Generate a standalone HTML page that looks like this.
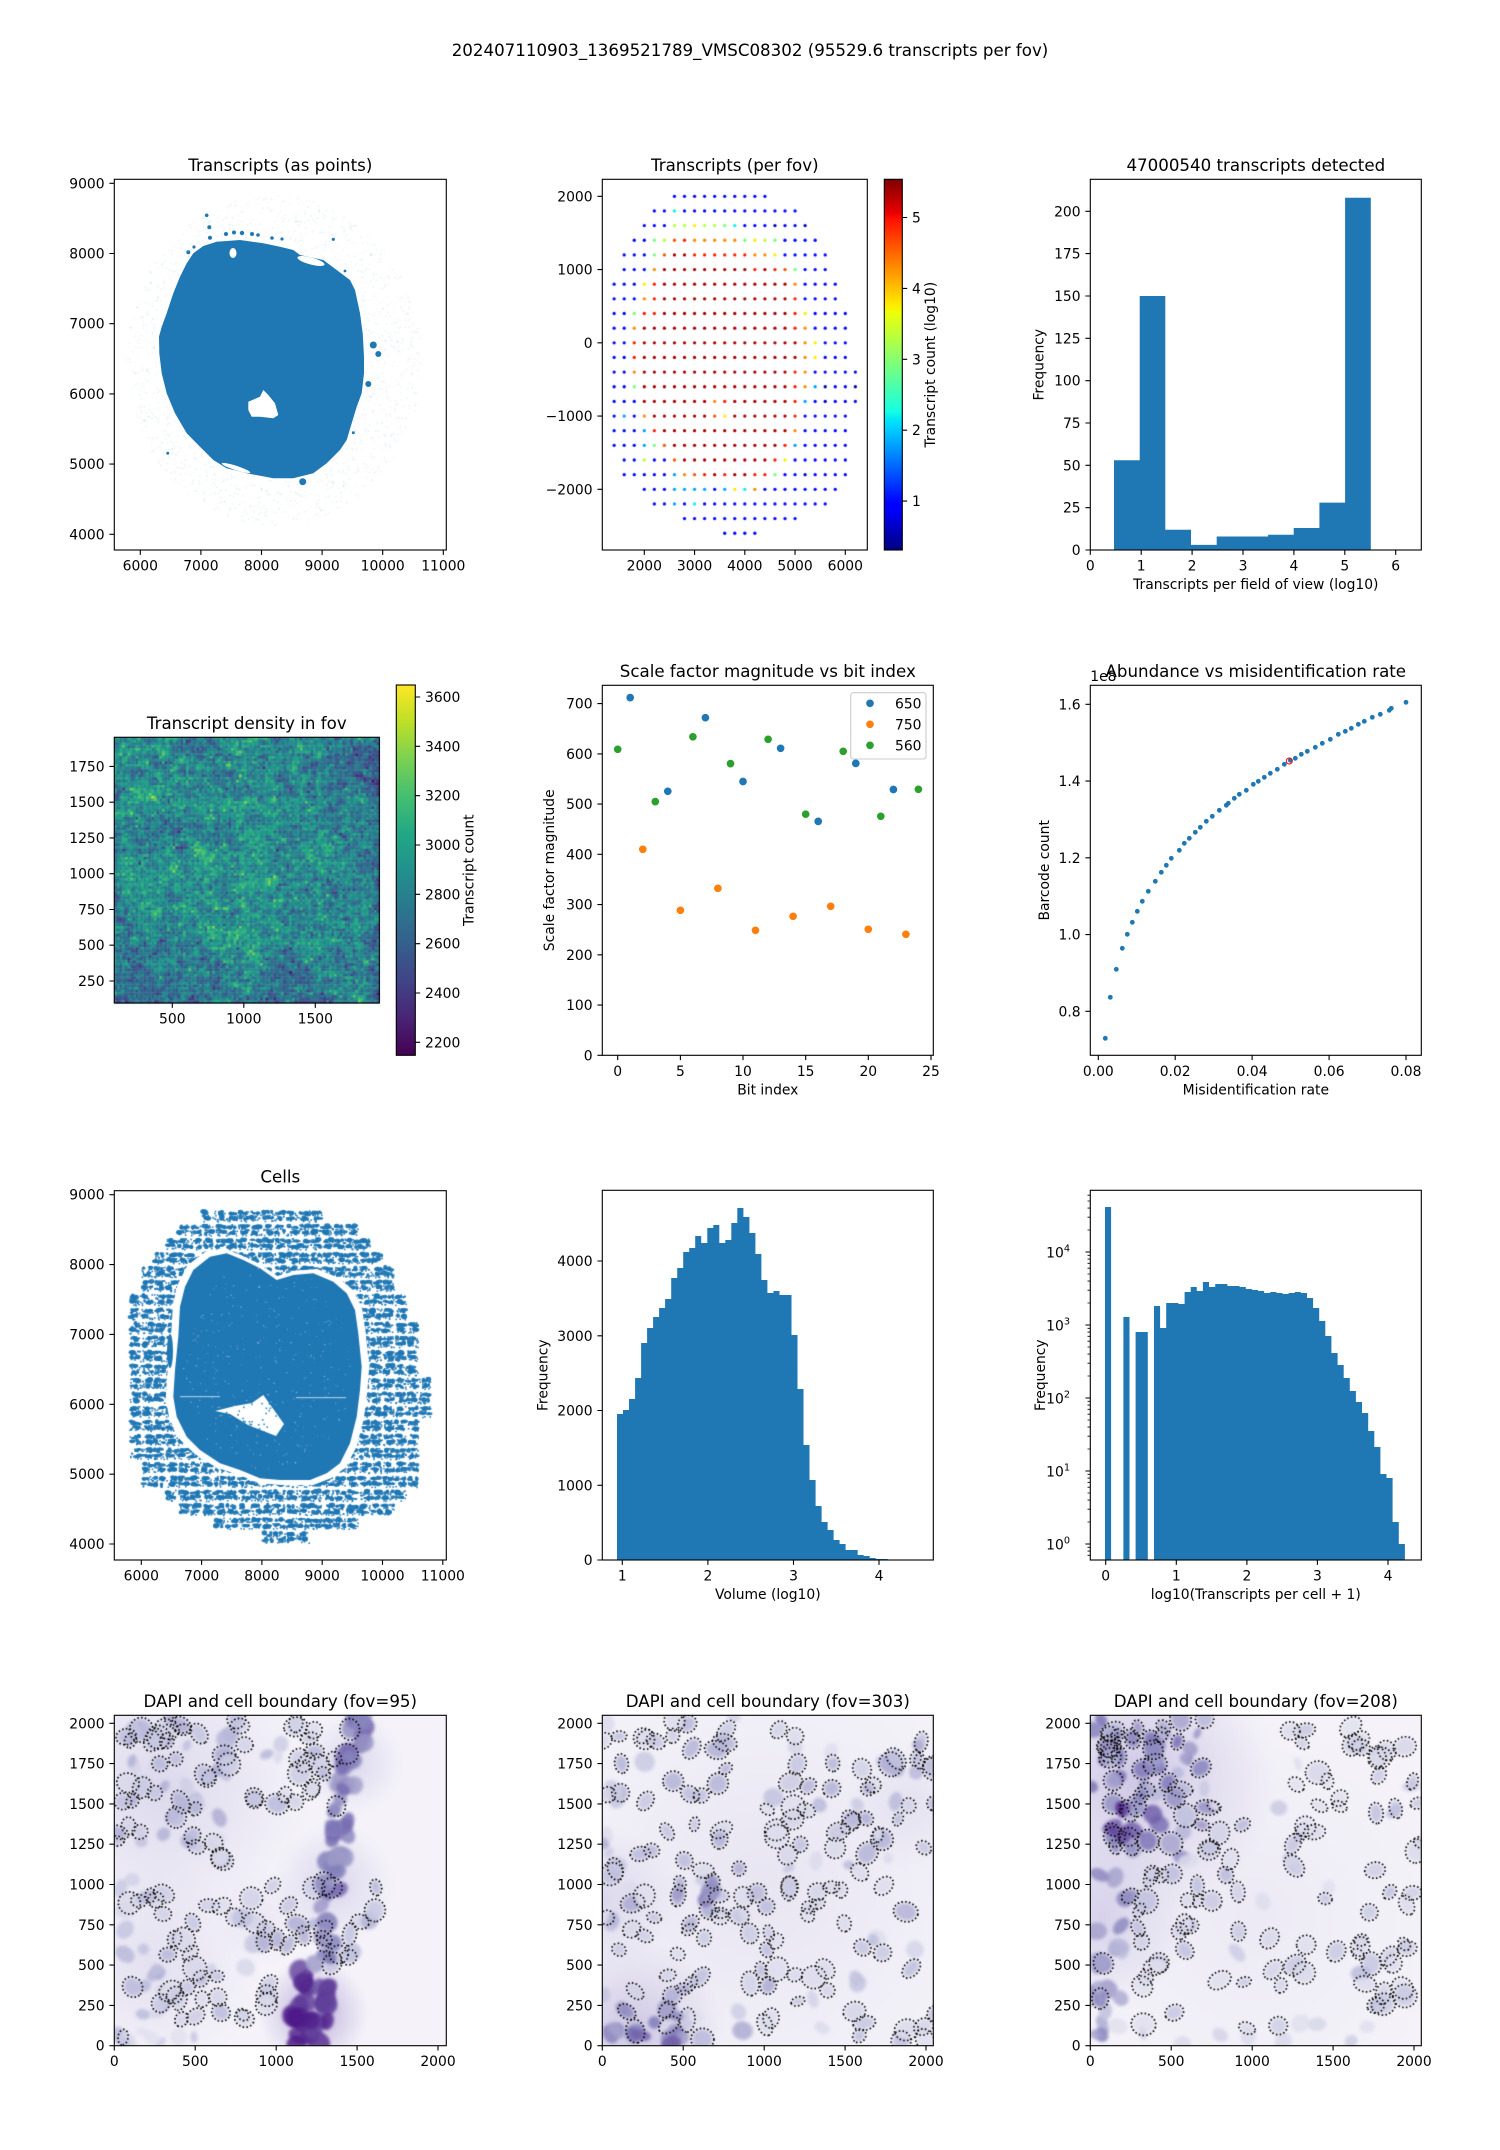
<!DOCTYPE html>
<html><head><meta charset="utf-8">
<style>
html,body{margin:0;padding:0;background:#fff;}
#wrap{position:relative;width:1500px;height:2150px;overflow:hidden;background:#fff;}
#cv{position:absolute;left:0;top:0;}
#sv{position:absolute;left:0;top:0;}
text{font-family:"DejaVu Sans","Liberation Sans",sans-serif;font-size:13.89px;fill:#000;}
.ti{font-size:16.67px;text-anchor:middle;}
.xc{text-anchor:middle;}
.ye{text-anchor:end;}
.tk{stroke:#000;stroke-width:1.11;fill:none;}
.mt{stroke:#000;stroke-width:0.83;fill:none;}
.fr{fill:none;stroke:#000;stroke-width:1.11;}
</style></head><body><div id="wrap">
<canvas id="cv" width="1500" height="2150"></canvas>
<svg id="sv" width="1500" height="2150" xmlns="http://www.w3.org/2000/svg">
<defs>
<linearGradient id="jet" x1="0" y1="1" x2="0" y2="0">
<stop offset="0" stop-color="#000080"/><stop offset="0.11" stop-color="#0000ff"/><stop offset="0.125" stop-color="#0000ff"/><stop offset="0.34" stop-color="#00dbff"/><stop offset="0.35" stop-color="#00e5f7"/><stop offset="0.375" stop-color="#15ffe2"/><stop offset="0.64" stop-color="#eeff08"/><stop offset="0.65" stop-color="#f7f500"/><stop offset="0.66" stop-color="#ffec00"/><stop offset="0.89" stop-color="#ff1300"/><stop offset="0.91" stop-color="#e80000"/><stop offset="1" stop-color="#800000"/>
</linearGradient>
<linearGradient id="vir" x1="0" y1="1" x2="0" y2="0">
<stop offset="0" stop-color="#440154"/><stop offset="0.1" stop-color="#482475"/><stop offset="0.2" stop-color="#414487"/><stop offset="0.3" stop-color="#355f8d"/><stop offset="0.4" stop-color="#2a788e"/><stop offset="0.5" stop-color="#21918c"/><stop offset="0.6" stop-color="#22a884"/><stop offset="0.7" stop-color="#44bf70"/><stop offset="0.8" stop-color="#7ad151"/><stop offset="0.9" stop-color="#bddf26"/><stop offset="1" stop-color="#fde725"/>
</linearGradient>
</defs>

<text class="ti" x="750" y="56">202407110903_1369521789_VMSC08302 (95529.6 transcripts per fov)</text>

<!-- Panel A -->
<text class="ti" x="280.3" y="171">Transcripts (as points)</text>
<path fill="#1f77b4" d="M193.3,253.3 L203.3,246 L216.7,241.7 L240,240 L263.3,243.3 L280,246.7 L293.3,250 L300,255 L323.3,260 L336.7,270 L350,280 L355,290 L360,313.3 L362.7,333.3 L364,356.7 L364,373.3 L361.7,393.3 L356.7,406.7 L351.7,423.3 L346.7,440 L340,450 L326.7,463.3 L313.3,473.3 L293.3,478.3 L273.3,478.3 L246.7,473.3 L226.7,468.3 L213.3,460 L200,446.7 L186.7,433.3 L175,413.3 L166.7,393.3 L161.7,373.3 L159.3,353.3 L159,336.7 L161.7,326.7 L166.7,313.3 L173.3,293.3 L180,276.7 L186.7,263.3 Z"/>
<g fill="#1f77b4">
<circle cx="206.7" cy="215.3" r="1.8"/><circle cx="209.3" cy="227.3" r="2"/><circle cx="210" cy="237.7" r="2"/><circle cx="188.3" cy="252.3" r="2"/><circle cx="167.7" cy="453.3" r="1.5"/><circle cx="302.7" cy="481.7" r="3.5"/><circle cx="368.3" cy="384" r="3"/><circle cx="373.3" cy="345" r="3.5"/><circle cx="378.3" cy="354" r="3"/><circle cx="353.3" cy="432.7" r="1.5"/><circle cx="333.3" cy="239.3" r="1.6"/><circle cx="320" cy="267.7" r="1.5"/><circle cx="194" cy="247" r="1.6"/><circle cx="226" cy="234" r="2"/><circle cx="234" cy="232.5" r="2"/><circle cx="242" cy="233" r="2.2"/><circle cx="252" cy="234" r="2"/><circle cx="258" cy="235" r="1.8"/><circle cx="272" cy="238" r="1.8"/><circle cx="282" cy="239" r="1.6"/><circle cx="345" cy="271" r="1.4"/><circle cx="171" cy="312" r="1.6"/>
</g>
<ellipse cx="311" cy="261" rx="14" ry="3.5" transform="rotate(15 311 261)" fill="#fff"/>
<path fill="#fff" d="M248.3,401.7 L260,396.7 L263.3,390 L268.3,395 L275,403.3 L278.3,415 L273.3,418.3 L260,416.7 L251.7,416.7 L248.3,410 Z"/>
<ellipse cx="233" cy="253" rx="3.5" ry="5" fill="#fff"/>
<ellipse cx="236" cy="468" rx="15" ry="2.2" transform="rotate(18 236 468)" fill="#fff"/>
<rect class="fr" x="114.3" y="179.3" width="332" height="370.7"/>
<path class="tk" d="M140.3,550v4.86M200.9,550v4.86M261.5,550v4.86M322.1,550v4.86M382.7,550v4.86M443.3,550v4.86M114.3,183.3h-4.86M114.3,253.5h-4.86M114.3,323.7h-4.86M114.3,393.9h-4.86M114.3,464.1h-4.86M114.3,534.3h-4.86"/>
<text class="xc" x="140.3" y="570.5">6000</text><text class="xc" x="200.9" y="570.5">7000</text><text class="xc" x="261.5" y="570.5">8000</text><text class="xc" x="322.1" y="570.5">9000</text><text class="xc" x="382.7" y="570.5">10000</text><text class="xc" x="443.3" y="570.5">11000</text>
<text class="ye" x="104.6" y="188.3">9000</text><text class="ye" x="104.6" y="258.5">8000</text><text class="ye" x="104.6" y="328.7">7000</text><text class="ye" x="104.6" y="398.9">6000</text><text class="ye" x="104.6" y="469.1">5000</text><text class="ye" x="104.6" y="539.3">4000</text>

<!-- Panel B -->
<text class="ti" x="734.8" y="171">Transcripts (per fov)</text>
<rect class="fr" x="602.3" y="179.3" width="265" height="370.7"/>
<path class="tk" d="M644.3,550v4.86M694.55,550v4.86M744.8,550v4.86M795.05,550v4.86M845.3,550v4.86M602.3,196.3h-4.86M602.3,269.6h-4.86M602.3,342.8h-4.86M602.3,416.1h-4.86M602.3,489.3h-4.86"/>
<text class="xc" x="644.3" y="570.5">2000</text><text class="xc" x="694.55" y="570.5">3000</text><text class="xc" x="744.8" y="570.5">4000</text><text class="xc" x="795.05" y="570.5">5000</text><text class="xc" x="845.3" y="570.5">6000</text>
<text class="ye" x="592.6" y="201.3">2000</text><text class="ye" x="592.6" y="274.6">1000</text><text class="ye" x="592.6" y="347.8">0</text><text class="ye" x="592.6" y="421.1">−1000</text><text class="ye" x="592.6" y="494.3">−2000</text>
<rect x="884.3" y="179.3" width="18" height="370.7" fill="url(#jet)" stroke="#000" stroke-width="1.11"/>
<path class="tk" d="M902.3,501.1h4.86M902.3,430.2h4.86M902.3,359.3h4.86M902.3,288.4h4.86M902.3,217.5h4.86"/>
<text x="912" y="506.1">1</text><text x="912" y="435.2">2</text><text x="912" y="364.3">3</text><text x="912" y="293.4">4</text><text x="912" y="222.5">5</text>
<text class="xc" transform="translate(935,364.7) rotate(-90)">Transcript count (log10)</text>

<!-- Panel C -->
<text class="ti" x="1255.8" y="171">47000540 transcripts detected</text>
<path fill="#1f77b4" d="M1114,550 V460.2 H1139.7 V296 H1165.3 V529.7 H1191 V544.9 H1216.7 V536.5 H1268.1 V534.8 H1293.7 V528 H1319.4 V502.6 H1345.1 V197.8 H1370.8 V550 Z"/>
<rect class="fr" x="1090.3" y="179.3" width="331" height="370.7"/>
<path class="tk" d="M1090.3,550v4.86M1141.2,550v4.86M1192.1,550v4.86M1243,550v4.86M1293.9,550v4.86M1344.8,550v4.86M1395.7,550v4.86M1090.3,550h-4.86M1090.3,507.7h-4.86M1090.3,465.3h-4.86M1090.3,423h-4.86M1090.3,380.7h-4.86M1090.3,338.3h-4.86M1090.3,296h-4.86M1090.3,253.6h-4.86M1090.3,211.3h-4.86"/>
<text class="xc" x="1090.3" y="570.5">0</text><text class="xc" x="1141.2" y="570.5">1</text><text class="xc" x="1192.1" y="570.5">2</text><text class="xc" x="1243" y="570.5">3</text><text class="xc" x="1293.9" y="570.5">4</text><text class="xc" x="1344.8" y="570.5">5</text><text class="xc" x="1395.7" y="570.5">6</text>
<text class="ye" x="1080.6" y="555">0</text><text class="ye" x="1080.6" y="512.7">25</text><text class="ye" x="1080.6" y="470.3">50</text><text class="ye" x="1080.6" y="428">75</text><text class="ye" x="1080.6" y="385.7">100</text><text class="ye" x="1080.6" y="343.3">125</text><text class="ye" x="1080.6" y="301">150</text><text class="ye" x="1080.6" y="258.6">175</text><text class="ye" x="1080.6" y="216.3">200</text>
<text class="xc" x="1255.8" y="589">Transcripts per field of view (log10)</text>
<text class="xc" transform="translate(1043.4,364.7) rotate(-90)">Frequency</text>

<!-- Panel D -->
<text class="ti" x="246.8" y="729">Transcript density in fov</text>
<rect class="fr" x="114.3" y="737.3" width="265" height="265.7"/>
<path class="tk" d="M172.3,1003v4.86M243.8,1003v4.86M315.3,1003v4.86M114.3,981h-4.86M114.3,945.2h-4.86M114.3,909.5h-4.86M114.3,873.7h-4.86M114.3,837.9h-4.86M114.3,802.2h-4.86M114.3,766.4h-4.86"/>
<text class="xc" x="172.3" y="1023.5">500</text><text class="xc" x="243.8" y="1023.5">1000</text><text class="xc" x="315.3" y="1023.5">1500</text>
<text class="ye" x="104.6" y="986">250</text><text class="ye" x="104.6" y="950.2">500</text><text class="ye" x="104.6" y="914.5">750</text><text class="ye" x="104.6" y="878.7">1000</text><text class="ye" x="104.6" y="842.9">1250</text><text class="ye" x="104.6" y="807.2">1500</text><text class="ye" x="104.6" y="771.4">1750</text>
<rect x="396.3" y="685" width="19" height="370.3" fill="url(#vir)" stroke="#000" stroke-width="1.11"/>
<path class="tk" d="M415.3,697h4.86M415.3,746.3h4.86M415.3,795.7h4.86M415.3,845h4.86M415.3,894.3h4.86M415.3,943.7h4.86M415.3,993h4.86M415.3,1042.3h4.86"/>
<text x="425" y="702">3600</text><text x="425" y="751.3">3400</text><text x="425" y="800.7">3200</text><text x="425" y="850">3000</text><text x="425" y="899.3">2800</text><text x="425" y="948.7">2600</text><text x="425" y="998">2400</text><text x="425" y="1047.3">2200</text>
<text class="xc" transform="translate(473.4,870.2) rotate(-90)">Transcript count</text>

<!-- Panel E -->
<text class="ti" x="767.8" y="677">Scale factor magnitude vs bit index</text>
<g stroke="#fff" stroke-width="0.9">
<g fill="#1f77b4"><circle cx="630.2" cy="697.6" r="4.3"/><circle cx="667.8" cy="791.3" r="4.3"/><circle cx="705.4" cy="717.7" r="4.3"/><circle cx="743" cy="781.5" r="4.3"/><circle cx="780.6" cy="748.3" r="4.3"/><circle cx="818.2" cy="821.4" r="4.3"/><circle cx="855.8" cy="763.4" r="4.3"/><circle cx="893.4" cy="789.5" r="4.3"/></g>
<g fill="#ff7f0e"><circle cx="642.8" cy="849.3" r="4.3"/><circle cx="680.4" cy="910.3" r="4.3"/><circle cx="717.9" cy="888.3" r="4.3"/><circle cx="755.5" cy="930.3" r="4.3"/><circle cx="793.1" cy="916.3" r="4.3"/><circle cx="830.7" cy="906.3" r="4.3"/><circle cx="868.3" cy="929.3" r="4.3"/><circle cx="905.9" cy="934.3" r="4.3"/></g>
<g fill="#2ca02c"><circle cx="617.7" cy="749.3" r="4.3"/><circle cx="655.3" cy="801.6" r="4.3"/><circle cx="692.9" cy="736.8" r="4.3"/><circle cx="730.5" cy="763.6" r="4.3"/><circle cx="768.1" cy="739.3" r="4.3"/><circle cx="805.7" cy="814.2" r="4.3"/><circle cx="843.2" cy="751.3" r="4.3"/><circle cx="880.8" cy="816.3" r="4.3"/><circle cx="918.4" cy="789.3" r="4.3"/></g>
</g>
<rect x="850.7" y="692.7" width="75.3" height="66.3" rx="2.8" fill="#fff" fill-opacity="0.8" stroke="#cccccc" stroke-width="1.11"/>
<g stroke="#fff" stroke-width="0.9"><circle cx="870" cy="703.3" r="4.3" fill="#1f77b4"/><circle cx="870" cy="724.3" r="4.3" fill="#ff7f0e"/><circle cx="870" cy="745.3" r="4.3" fill="#2ca02c"/></g>
<text x="895" y="708.3">650</text><text x="895" y="729.3">750</text><text x="895" y="750.3">560</text>
<rect class="fr" x="602.3" y="685.3" width="331" height="370"/>
<path class="tk" d="M617.7,1055.3v4.86M680.4,1055.3v4.86M743,1055.3v4.86M805.7,1055.3v4.86M868.3,1055.3v4.86M931,1055.3v4.86M602.3,1055.3h-4.86M602.3,1005.1h-4.86M602.3,954.8h-4.86M602.3,904.6h-4.86M602.3,854.3h-4.86M602.3,804.1h-4.86M602.3,753.9h-4.86M602.3,703.6h-4.86"/>
<text class="xc" x="617.7" y="1075.8">0</text><text class="xc" x="680.4" y="1075.8">5</text><text class="xc" x="743" y="1075.8">10</text><text class="xc" x="805.7" y="1075.8">15</text><text class="xc" x="868.3" y="1075.8">20</text><text class="xc" x="931" y="1075.8">25</text>
<text class="ye" x="592.6" y="1060.3">0</text><text class="ye" x="592.6" y="1010.1">100</text><text class="ye" x="592.6" y="959.8">200</text><text class="ye" x="592.6" y="909.6">300</text><text class="ye" x="592.6" y="859.3">400</text><text class="ye" x="592.6" y="809.1">500</text><text class="ye" x="592.6" y="758.9">600</text><text class="ye" x="592.6" y="708.6">700</text>
<text class="xc" x="767.8" y="1094.3">Bit index</text>
<text class="xc" transform="translate(554,870.3) rotate(-90)">Scale factor magnitude</text>

<!-- Panel F -->
<g fill="#1f77b4">
<circle cx="1105.3" cy="1038.3" r="2.4"/><circle cx="1110.3" cy="997.3" r="2.4"/><circle cx="1116.3" cy="969.3" r="2.4"/><circle cx="1122.3" cy="948.3" r="2.4"/><circle cx="1127.3" cy="934.3" r="2.4"/><circle cx="1132.3" cy="922.3" r="2.4"/><circle cx="1137.3" cy="911.3" r="2.4"/><circle cx="1142.3" cy="901.3" r="2.4"/><circle cx="1148.3" cy="891.3" r="2.4"/><circle cx="1155.3" cy="881.3" r="2.4"/><circle cx="1161.3" cy="872.3" r="2.4"/><circle cx="1166.3" cy="865.3" r="2.4"/><circle cx="1171.3" cy="858.3" r="2.4"/><circle cx="1179.3" cy="850.3" r="2.4"/><circle cx="1184.3" cy="843.3" r="2.4"/><circle cx="1189.3" cy="838.3" r="2.4"/><circle cx="1195.3" cy="832.3" r="2.4"/><circle cx="1200.3" cy="827.3" r="2.4"/><circle cx="1206.3" cy="821.3" r="2.4"/><circle cx="1212.3" cy="816.3" r="2.4"/><circle cx="1219.3" cy="810.3" r="2.4"/><circle cx="1226.3" cy="805.3" r="2.4"/><circle cx="1228.3" cy="803.3" r="2.4"/><circle cx="1234.3" cy="798.3" r="2.4"/><circle cx="1239.3" cy="794.3" r="2.4"/><circle cx="1246.3" cy="790.3" r="2.4"/><circle cx="1253.3" cy="784.3" r="2.4"/><circle cx="1258.3" cy="781.3" r="2.4"/><circle cx="1264.3" cy="777.3" r="2.4"/><circle cx="1270.3" cy="773.3" r="2.4"/><circle cx="1277.3" cy="769.3" r="2.4"/><circle cx="1284.3" cy="764.3" r="2.4"/><circle cx="1290.3" cy="760.3" r="2.4"/><circle cx="1295.3" cy="758.3" r="2.4"/><circle cx="1301.3" cy="754.3" r="2.4"/><circle cx="1307.3" cy="751.3" r="2.4"/><circle cx="1315.3" cy="747.3" r="2.4"/><circle cx="1322.3" cy="743.3" r="2.4"/><circle cx="1330.3" cy="739.3" r="2.4"/><circle cx="1338.3" cy="734.3" r="2.4"/><circle cx="1345.3" cy="731.3" r="2.4"/><circle cx="1351.3" cy="728.3" r="2.4"/><circle cx="1358.3" cy="724.3" r="2.4"/><circle cx="1364.3" cy="721.3" r="2.4"/><circle cx="1372.3" cy="717.3" r="2.4"/><circle cx="1380.3" cy="714.3" r="2.4"/><circle cx="1389.3" cy="710.3" r="2.4"/><circle cx="1391.3" cy="708.3" r="2.4"/><circle cx="1406" cy="702.3" r="2.4"/>
</g>
<circle cx="1289.3" cy="761" r="3" fill="none" stroke="#ff0000" stroke-width="1"/>
<rect class="fr" x="1090.3" y="685.3" width="331" height="370"/>
<path class="tk" d="M1098.3,1055.3v4.86M1175.2,1055.3v4.86M1252.1,1055.3v4.86M1329.1,1055.3v4.86M1406,1055.3v4.86M1090.3,1011.3h-4.86M1090.3,934.55h-4.86M1090.3,857.8h-4.86M1090.3,781.05h-4.86M1090.3,704.3h-4.86"/>
<text class="xc" x="1098.3" y="1075.8">0.00</text><text class="xc" x="1175.2" y="1075.8">0.02</text><text class="xc" x="1252.1" y="1075.8">0.04</text><text class="xc" x="1329.1" y="1075.8">0.06</text><text class="xc" x="1406" y="1075.8">0.08</text>
<text class="ye" x="1080.6" y="1016.3">0.8</text><text class="ye" x="1080.6" y="939.55">1.0</text><text class="ye" x="1080.6" y="862.8">1.2</text><text class="ye" x="1080.6" y="786.05">1.4</text><text class="ye" x="1080.6" y="709.3">1.6</text>
<text x="1090.3" y="681">1e8</text>
<text class="ti" x="1255.8" y="677">Abundance vs misidentification rate</text>
<text class="xc" x="1255.8" y="1094.3">Misidentification rate</text>
<text class="xc" transform="translate(1049,870.3) rotate(-90)">Barcode count</text>

<!-- Panel G -->
<text class="ti" x="280.3" y="1182.4">Cells</text>
<rect class="fr" x="114.3" y="1190.7" width="332" height="369.3"/>
<path class="tk" d="M141.3,1560v4.86M201.6,1560v4.86M261.9,1560v4.86M322.2,1560v4.86M382.5,1560v4.86M442.8,1560v4.86M114.3,1194.7h-4.86M114.3,1264.6h-4.86M114.3,1334.4h-4.86M114.3,1404.3h-4.86M114.3,1474.2h-4.86M114.3,1544h-4.86"/>
<text class="xc" x="141.3" y="1580.5">6000</text><text class="xc" x="201.6" y="1580.5">7000</text><text class="xc" x="261.9" y="1580.5">8000</text><text class="xc" x="322.2" y="1580.5">9000</text><text class="xc" x="382.5" y="1580.5">10000</text><text class="xc" x="442.8" y="1580.5">11000</text>
<text class="ye" x="104.6" y="1199.7">9000</text><text class="ye" x="104.6" y="1269.6">8000</text><text class="ye" x="104.6" y="1339.4">7000</text><text class="ye" x="104.6" y="1409.3">6000</text><text class="ye" x="104.6" y="1479.2">5000</text><text class="ye" x="104.6" y="1549">4000</text>

<!-- Panel H -->
<path fill="#1f77b4" d="M617,1560V1414H623V1410H629V1399H635.1V1378H641.1V1343H647.1V1328H653.1V1317H659.1V1308H665.1V1299H671.2V1278H677.2V1268H683.2V1252H689.2V1248H695.2V1236H701.2V1243H707.3V1228H713.3V1225H719.3V1243H725.3V1240H731.3V1223H737.3V1208H743.4V1217H749.4V1233H755.4V1254H761.4V1280H767.4V1293H773.4V1291H779.5V1295H791.5V1335H797.5V1389H803.5V1445H809.5V1480H815.6V1506H821.6V1522H827.6V1530H833.6V1540H839.6V1544H845.6V1550H857.7V1555H863.7V1556H869.7V1558H875.7V1559H887.8V1559.5H893.8V1560Z"/>
<rect class="fr" x="602.3" y="1190.3" width="331" height="369.7"/>
<path class="tk" d="M622.3,1560v4.86M707.9,1560v4.86M793.5,1560v4.86M879,1560v4.86M602.3,1560h-4.86M602.3,1485.3h-4.86M602.3,1410.5h-4.86M602.3,1335.8h-4.86M602.3,1261h-4.86"/>
<text class="xc" x="622.3" y="1580.5">1</text><text class="xc" x="707.9" y="1580.5">2</text><text class="xc" x="793.5" y="1580.5">3</text><text class="xc" x="879" y="1580.5">4</text>
<text class="ye" x="592.6" y="1565">0</text><text class="ye" x="592.6" y="1490.3">1000</text><text class="ye" x="592.6" y="1415.5">2000</text><text class="ye" x="592.6" y="1340.8">3000</text><text class="ye" x="592.6" y="1266">4000</text>
<text class="xc" x="767.8" y="1599">Volume (log10)</text>
<text class="xc" transform="translate(547.7,1375.2) rotate(-90)">Frequency</text>

<!-- Panel I -->
<path fill="#1f77b4" d="M1105,1560V1207H1111.1V1560Z M1123.4,1560V1317H1129.5V1560Z M1135.6,1560V1332H1147.8V1560Z M1154,1560V1306H1160.1V1328H1166.2V1303H1178.4V1304H1184.6V1292H1190.7V1287H1196.8V1291H1202.9V1282H1209V1287H1215.2V1284H1227.4V1286H1239.6V1287H1245.8V1289H1251.9V1290H1258V1291H1264.1V1293H1270.2V1292H1276.4V1293H1282.5V1294H1288.6V1293H1294.7V1292H1300.8V1293H1307V1298H1313.1V1308H1319.2V1321H1325.3V1336H1331.4V1353H1337.6V1365H1343.7V1378H1349.8V1391H1355.9V1402H1362V1413H1368.2V1431H1374.3V1447H1380.4V1474H1386.5V1478H1392.6V1522H1398.8V1544H1404.9V1560Z"/>
<rect class="fr" x="1090.3" y="1190.3" width="331" height="369.7"/>
<path class="tk" d="M1105.7,1560v4.86M1176.3,1560v4.86M1246.9,1560v4.86M1317.4,1560v4.86M1388,1560v4.86M1090.3,1544h-4.86M1090.3,1471h-4.86M1090.3,1398h-4.86M1090.3,1325h-4.86M1090.3,1252h-4.86"/>
<path class="mt" d="M1090.3,1555.3h-2.78M1090.3,1551.1h-2.78M1090.3,1547.3h-2.78M1090.3,1522h-2.78M1090.3,1509.2h-2.78M1090.3,1500.1h-2.78M1090.3,1493h-2.78M1090.3,1487.2h-2.78M1090.3,1482.3h-2.78M1090.3,1478.1h-2.78M1090.3,1474.3h-2.78M1090.3,1449h-2.78M1090.3,1436.2h-2.78M1090.3,1427.1h-2.78M1090.3,1420h-2.78M1090.3,1414.2h-2.78M1090.3,1409.3h-2.78M1090.3,1405.1h-2.78M1090.3,1401.3h-2.78M1090.3,1376h-2.78M1090.3,1363.2h-2.78M1090.3,1354.1h-2.78M1090.3,1347h-2.78M1090.3,1341.2h-2.78M1090.3,1336.3h-2.78M1090.3,1332.1h-2.78M1090.3,1328.3h-2.78M1090.3,1303h-2.78M1090.3,1290.2h-2.78M1090.3,1281.1h-2.78M1090.3,1274h-2.78M1090.3,1268.2h-2.78M1090.3,1263.3h-2.78M1090.3,1259.1h-2.78M1090.3,1255.3h-2.78M1090.3,1230h-2.78M1090.3,1217.2h-2.78M1090.3,1208.1h-2.78M1090.3,1201h-2.78M1090.3,1195.2h-2.78"/>
<text class="xc" x="1105.7" y="1580.5">0</text><text class="xc" x="1176.3" y="1580.5">1</text><text class="xc" x="1246.9" y="1580.5">2</text><text class="xc" x="1317.4" y="1580.5">3</text><text class="xc" x="1388" y="1580.5">4</text>
<text class="ye" x="1070" y="1549.3">10<tspan dy="-5.8" font-size="9.72">0</tspan></text>
<text class="ye" x="1070" y="1476.3">10<tspan dy="-5.8" font-size="9.72">1</tspan></text>
<text class="ye" x="1070" y="1403.3">10<tspan dy="-5.8" font-size="9.72">2</tspan></text>
<text class="ye" x="1070" y="1330.3">10<tspan dy="-5.8" font-size="9.72">3</tspan></text>
<text class="ye" x="1070" y="1257.3">10<tspan dy="-5.8" font-size="9.72">4</tspan></text>
<text class="xc" x="1255.8" y="1599">log10(Transcripts per cell + 1)</text>
<text class="xc" transform="translate(1045,1375.2) rotate(-90)">Frequency</text>

<!-- Row 4 -->
<text class="ti" x="280.3" y="1707">DAPI and cell boundary (fov=95)</text>
<text class="ti" x="767.8" y="1707">DAPI and cell boundary (fov=303)</text>
<text class="ti" x="1255.8" y="1707">DAPI and cell boundary (fov=208)</text>
<rect class="fr" x="114.3" y="1715.3" width="332" height="330.4"/>
<rect class="fr" x="602.3" y="1715.3" width="331" height="330.4"/>
<rect class="fr" x="1090.3" y="1715.3" width="331" height="330.4"/>
<path class="tk" d="M114.3,2045.7v4.86M195.2,2045.7v4.86M276.2,2045.7v4.86M357.1,2045.7v4.86M438,2045.7v4.86M602.3,2045.7v4.86M683.2,2045.7v4.86M764.2,2045.7v4.86M845.1,2045.7v4.86M926,2045.7v4.86M1090.3,2045.7v4.86M1171.2,2045.7v4.86M1252.2,2045.7v4.86M1333.1,2045.7v4.86M1414,2045.7v4.86
M114.3,2045.7h-4.86M114.3,2005.4h-4.86M114.3,1965.1h-4.86M114.3,1924.8h-4.86M114.3,1884.5h-4.86M114.3,1844.2h-4.86M114.3,1803.9h-4.86M114.3,1763.6h-4.86M114.3,1723.3h-4.86
M602.3,2045.7h-4.86M602.3,2005.4h-4.86M602.3,1965.1h-4.86M602.3,1924.8h-4.86M602.3,1884.5h-4.86M602.3,1844.2h-4.86M602.3,1803.9h-4.86M602.3,1763.6h-4.86M602.3,1723.3h-4.86
M1090.3,2045.7h-4.86M1090.3,2005.4h-4.86M1090.3,1965.1h-4.86M1090.3,1924.8h-4.86M1090.3,1884.5h-4.86M1090.3,1844.2h-4.86M1090.3,1803.9h-4.86M1090.3,1763.6h-4.86M1090.3,1723.3h-4.86"/>
<text class="xc" x="114.3" y="2066.2">0</text><text class="xc" x="195.2" y="2066.2">500</text><text class="xc" x="276.2" y="2066.2">1000</text><text class="xc" x="357.1" y="2066.2">1500</text><text class="xc" x="438" y="2066.2">2000</text>
<text class="xc" x="602.3" y="2066.2">0</text><text class="xc" x="683.2" y="2066.2">500</text><text class="xc" x="764.2" y="2066.2">1000</text><text class="xc" x="845.1" y="2066.2">1500</text><text class="xc" x="926" y="2066.2">2000</text>
<text class="xc" x="1090.3" y="2066.2">0</text><text class="xc" x="1171.2" y="2066.2">500</text><text class="xc" x="1252.2" y="2066.2">1000</text><text class="xc" x="1333.1" y="2066.2">1500</text><text class="xc" x="1414" y="2066.2">2000</text>
<text class="ye" x="104.6" y="2050.7">0</text><text class="ye" x="104.6" y="2010.4">250</text><text class="ye" x="104.6" y="1970.1">500</text><text class="ye" x="104.6" y="1929.8">750</text><text class="ye" x="104.6" y="1889.5">1000</text><text class="ye" x="104.6" y="1849.2">1250</text><text class="ye" x="104.6" y="1808.9">1500</text><text class="ye" x="104.6" y="1768.6">1750</text><text class="ye" x="104.6" y="1728.3">2000</text>
<text class="ye" x="592.6" y="2050.7">0</text><text class="ye" x="592.6" y="2010.4">250</text><text class="ye" x="592.6" y="1970.1">500</text><text class="ye" x="592.6" y="1929.8">750</text><text class="ye" x="592.6" y="1889.5">1000</text><text class="ye" x="592.6" y="1849.2">1250</text><text class="ye" x="592.6" y="1808.9">1500</text><text class="ye" x="592.6" y="1768.6">1750</text><text class="ye" x="592.6" y="1728.3">2000</text>
<text class="ye" x="1080.6" y="2050.7">0</text><text class="ye" x="1080.6" y="2010.4">250</text><text class="ye" x="1080.6" y="1970.1">500</text><text class="ye" x="1080.6" y="1929.8">750</text><text class="ye" x="1080.6" y="1889.5">1000</text><text class="ye" x="1080.6" y="1849.2">1250</text><text class="ye" x="1080.6" y="1808.9">1500</text><text class="ye" x="1080.6" y="1768.6">1750</text><text class="ye" x="1080.6" y="1728.3">2000</text>
</svg>
</div>
<script>
(function(){
const cv=document.getElementById('cv'),ctx=cv.getContext('2d');
let S=987654321;
function rnd(){S^=S<<13;S>>>=0;S^=S>>>17;S^=S<<5;S>>>=0;return S/4294967296;}
function gauss(){let u=rnd()||1e-9,v=rnd();return Math.sqrt(-2*Math.log(u))*Math.cos(6.283185*v);}
function interp(st,t){if(t<=st[0][0])return st[0][1];for(let i=1;i<st.length;i++){if(t<=st[i][0]){const a=st[i-1],b=st[i],f=(t-a[0])/(b[0]-a[0]);return a[1].map((v,k)=>v+(b[1][k]-v)*f);}}return st[st.length-1][1];}
function rgb(c,a){c=c.map(Math.round);return a===undefined?`rgb(${c[0]},${c[1]},${c[2]})`:`rgba(${c[0]},${c[1]},${c[2]},${a})`;}
const JET=[[0,[0,0,128]],[0.11,[0,0,255]],[0.125,[0,0,255]],[0.34,[0,219,255]],[0.35,[0,229,247]],[0.375,[21,255,226]],[0.64,[238,255,8]],[0.65,[247,245,0]],[0.66,[255,236,0]],[0.89,[255,19,0]],[0.91,[232,0,0]],[1,[128,0,0]]];
const VIR=[[0,[68,1,84]],[0.1,[72,36,117]],[0.2,[65,68,135]],[0.3,[53,95,141]],[0.4,[42,120,142]],[0.5,[33,145,140]],[0.6,[34,168,132]],[0.7,[68,191,112]],[0.8,[122,209,81]],[0.9,[189,223,38]],[1,[253,231,37]]];
const PU=[[0,[252,251,253]],[0.125,[239,237,245]],[0.25,[218,218,235]],[0.375,[188,189,220]],[0.5,[158,154,200]],[0.625,[128,125,186]],[0.75,[106,81,163]],[0.875,[84,39,143]],[1,[63,0,125]]];
const D=n=>"d".repeat(n);
const R=[
[2000,2600,"bbbbbbbbbb"],
[1800,2200,"bbcbbbbbbbbbbbb"],
[1600,2000,"bbbhhyhhgcbbbnbbn"],
[1400,1800,"bbgherooooogyhgbbbb"],
[1200,1600,"bbbgeddrrrrrrooybbbbb"],
[1000,1600,"bbbo"+D(9)+"rdregbbb"],
[800,1400,"bbbyr"+D(13)+"obbbb"],
[600,1400,"bbbor"+D(13)+"rbbbb"],
[400,1400,"bbgrr"+D(13)+"rybbbb"],
[200,1400,"bbo"+D(15)+"robbbb"],
[0,1400,"bbr"+D(16)+"oybbb"],
[-200,1400,"bbr"+D(16)+"oybbb"],
[-400,1400,"bbo"+D(15)+"robbbbb"],
[-600,1400,"bbg"+D(15)+"rolnbbn"],
[-800,1400,"bbb"+D(7)+"or"+D(6)+"rlbnbbb"],
[-1000,1400,"blbo"+D(6)+"ey"+D(6)+"rbbbbb"],
[-1200,1400,"bbblr"+D(13)+"obbbbb"],
[-1400,1400,"bbblge"+D(11)+"rlbbbbb"],
[-1600,1600,"bbhbbe"+D(9)+"rybbbbbb"],
[-1800,1600,"bbbbbloerdrddrrgbbnbbbb"],
[-2000,2000,"bbbllllblycobbbbbbbb"],
[-2200,2200,"bblbcb"+"b".repeat(12)],
[-2400,2800,"b".repeat(12)],
[-2600,3600,"bbbb"]];
const V={b:1.0,n:0.55,l:1.8,c:2.2,g:2.9,h:3.3,y:3.75,o:4.3,e:4.6,r:4.9,d:5.35};

/* Panel A halo */
for(let k=0;k<2600;k++){const a=rnd()*6.2832,r=Math.sqrt(rnd());const px=273+Math.cos(a)*r*148,py=360+Math.sin(a)*r*165;ctx.fillStyle='rgba(31,119,180,'+(0.05+rnd()*0.1)+')';ctx.fillRect(px,py,1.4,1.4);}

/* Panel B dots */
for(const [y,x0,s] of R){for(let i=0;i<s.length;i++){const x=x0+200*i;const px=644.3+(x-2000)*0.05025,py=342.8-y*0.07325;ctx.fillStyle=rgb(interp(JET,(V[s[i]]-0.31)/5.22));ctx.beginPath();ctx.arc(px,py,1.65,0,6.3);ctx.fill();}}

/* Heatmap */
(function(){
const N=100;
function grid(){const a=new Float32Array(N*N);for(let i=0;i<N*N;i++)a[i]=gauss();return a;}
function blur(a,r){const b=new Float32Array(N*N);for(let j=0;j<N;j++)for(let i=0;i<N;i++){let s=0,c=0;for(let dj=-r;dj<=r;dj++){const jj=j+dj;if(jj<0||jj>=N)continue;for(let di=-r;di<=r;di++){const ii=i+di;if(ii<0||ii>=N)continue;s+=a[jj*N+ii];c++;}}b[j*N+i]=s/c;}return b;}
function norm(a){let m=0;for(const v of a)m+=v;m/=a.length;let s=0;for(const v of a)s+=(v-m)*(v-m);s=Math.sqrt(s/a.length)||1;for(let i=0;i<a.length;i++)a[i]=(a[i]-m)/s;return a;}
const w=grid(),m=norm(blur(grid(),1)),l=norm(blur(blur(grid(),4),4));
const X0=114.3,Y0=737.3,CW=265/N,CH=265.7/N;
for(let j=0;j<N;j++)for(let i=0;i<N;i++){const x=(i+0.5)/N,y=1-(j+0.5)/N;const k=j*N+i;
let v=2830+120*w[k]+85*m[k]+55*l[k];
v+=110*Math.exp(-(((x-0.33)/0.28)**2+((y-0.47)/0.13)**2));
v+=90*Math.exp(-(((x-0.74)/0.12)**2+((y-0.33)/0.1)**2));
v+=50*Math.exp(-(((x-0.25)/0.2)**2+((y-0.78)/0.15)**2));
v-=170*Math.exp(-(1-x)/0.035);v-=120*Math.exp(-y/0.05);v-=50*Math.exp(-x/0.04);
v-=150*Math.exp(-((1-x)**2+(1-y)**2)/0.04);v-=140*Math.exp(-(x*x+y*y)/0.04);v-=80*Math.exp(-((1-x)**2+y*y)/0.03);
const t=Math.max(0,Math.min(1,(v-2147)/1502));
ctx.fillStyle=rgb(interp(VIR,t));ctx.fillRect(X0+i*CW,Y0+j*CH,CW+0.4,CH+0.4);}
})();

/* Cells panel */
(function(){
ctx.save();ctx.beginPath();ctx.rect(114.3,1190.7,332,369.3);ctx.clip();
ctx.fillStyle='rgba(31,119,180,0.95)';
for(const [y,x0,s] of R){for(let i=0;i<s.length;i++){const x=x0+200*i;const bx=141.3+(x+4400-6000)*0.0603,by=1194.7+(9000-(y+6800))*0.06987;
for(let k=0;k<6;k++){const cx=bx+1.5+rnd()*9,cy=by+(k%2?4:9.5)+(rnd()-0.5)*2.5;ctx.beginPath();ctx.ellipse(cx,cy,1.6+rnd()*2.2,1.3+rnd()*1.3,0,0,6.3);ctx.fill();}
for(let k=0;k<18;k++){ctx.fillRect(bx+rnd()*11,by+1.5+rnd()*11,1.6,1.6);}}}
const p=new Path2D("M193.3,1270 L210,1256.7 L226.7,1253.3 L243.3,1260 L260,1268.3 L276.7,1280 L293.3,1275 L313.3,1273.3 L333.3,1281.7 L346.7,1293.3 L355,1310 L358.3,1333.3 L361.7,1366.7 L360,1390 L356.7,1416.7 L350,1443.3 L340,1463.3 L326.7,1473.3 L310,1480 L280,1480 L260,1478.3 L240,1470 L220,1463.3 L200,1450 L186.7,1436.7 L176.7,1416.7 L173.3,1396.7 L175,1370 L178.3,1336.7 L180,1306.7 L185,1286.7 Z");
ctx.save();ctx.translate(268,1368);ctx.scale(1.08,1.045);ctx.translate(-268,-1368);ctx.fillStyle='#fff';ctx.fill(p);ctx.restore();
ctx.fillStyle='#1f77b4';ctx.fill(p);
ctx.beginPath();ctx.ellipse(170,1351,3,17,0,0,6.3);ctx.fill();
ctx.fillStyle='#fff';
ctx.beginPath();ctx.moveTo(263.3,1395);ctx.lineTo(284,1424);ctx.lineTo(276,1436);ctx.lineTo(248,1425);ctx.lineTo(230,1414);ctx.lineTo(215,1411);ctx.lineTo(235,1406);ctx.lineTo(252,1403);ctx.closePath();ctx.fill();
ctx.fillStyle='rgba(31,119,180,0.9)';
for(let k=0;k<40;k++){ctx.fillRect(225+rnd()*55,1400+rnd()*35,1.6,1.6);}
ctx.fillStyle='rgba(255,255,255,0.6)';ctx.fillRect(180,1396,40,1.2);ctx.fillRect(296,1397,50,1.2);
for(let k=0;k<320;k++){const a=rnd()*6.2832,r=Math.sqrt(rnd());ctx.fillStyle='rgba(255,255,255,'+(0.15+rnd()*0.35)+')';ctx.fillRect(268+Math.cos(a)*r*85,1366+Math.sin(a)*r*105,1.2,1.2);}
ctx.restore();
})();

/* DAPI panels */
function dapi(L,T,spec){
const W=(L<200?332:331),H=330.4,sx=0.1619,sy=0.1612;
const X=x=>L+x*sx,Y=y=>T+H-y*sy;
ctx.save();ctx.beginPath();ctx.rect(L,T,W,H);ctx.clip();
ctx.fillStyle=spec.bg;ctx.fillRect(L,T,W,H);
for(const hz of spec.haze){const g=ctx.createRadialGradient(X(hz[0]),Y(hz[1]),0,X(hz[0]),Y(hz[1]),hz[2]*sx);g.addColorStop(0,'rgba('+hz[3]+','+hz[4]+')');g.addColorStop(1,'rgba('+hz[3]+',0)');ctx.fillStyle=g;ctx.fillRect(L,T,W,H);}
const cells=[];
for(const r of spec.regions){const [x0,x1,y0,y1,n,i0,i1,po]=r;for(let k=0;k<n;k++){const rx=34+rnd()*32;cells.push({x:x0+rnd()*(x1-x0),y:y0+rnd()*(y1-y0),rx:rx,e:0.55+0.45*rnd(),a:rnd()*3.1416,v:i0+rnd()*(i1-i0),o:rnd()<po});}}
if(spec.extra)spec.extra(cells);
ctx.filter='blur(1.8px)';
for(const c of cells){ctx.fillStyle=rgb(interp(PU,c.v),0.85);ctx.beginPath();ctx.ellipse(X(c.x),Y(c.y),c.rx*sx,c.rx*c.e*sx,c.a,0,6.3);ctx.fill();}
ctx.filter='none';
ctx.setLineDash([1.5,2.3]);ctx.lineWidth=1.7;ctx.strokeStyle='#000';
for(const c of cells){if(!c.o)continue;ctx.beginPath();ctx.ellipse(X(c.x),Y(c.y),c.rx*sx*1.05+1.2,c.rx*c.e*sx*1.05+1.2,c.a,0,6.3);ctx.stroke();}
ctx.setLineDash([]);
ctx.restore();
}
dapi(114.3,1715.3,{bg:'#f5f3f9',
haze:[[300,1600,900,'205,200,230',0.6],[250,500,650,'210,205,232',0.5],[1350,1000,380,'200,195,230',0.6],[1230,200,340,'150,130,200',0.6],[1470,1750,320,'200,195,230',0.55],[900,800,300,'215,210,235',0.35]],
regions:[[0,700,1150,2048,55,.25,.45,.5],[700,1400,1450,2048,28,.22,.4,.85],[0,300,0,1150,20,.25,.45,.3],[150,1000,150,1000,36,.22,.4,.85],[850,1250,550,1050,12,.3,.45,.75],[1280,1620,500,1000,12,.28,.45,.85],[0,500,0,150,6,.2,.35,0]],
extra:function(cells){
for(let k=0;k<28;k++)cells.push({x:1100+rnd()*230,y:rnd()*470,rx:48+rnd()*25,e:0.7+0.3*rnd(),a:rnd()*3.14,v:0.72+rnd()*0.2,o:false});
const pl=[[1290,480],[1330,850],[1370,1100],[1400,1350],[1430,1600],[1470,1800],[1530,2048]];
for(let k=0;k<55;k++){const t=rnd()*(pl.length-1),i=Math.floor(t),f=t-i;const x=pl[i][0]+(pl[i+1][0]-pl[i][0])*f+(rnd()-0.5)*120,y=pl[i][1]+(pl[i+1][1]-pl[i][1])*f;cells.push({x:x,y:y,rx:42+rnd()*22,e:0.7+0.3*rnd(),a:rnd()*3.14,v:0.48+rnd()*0.22,o:rnd()<0.12});}
}});
dapi(602.3,1715.3,{bg:'#f5f3f9',
haze:[[200,100,550,'175,165,212',0.6],[1000,1000,1500,'222,219,237',0.55],[0,900,450,'200,195,228',0.5],[1900,1500,400,'215,210,235',0.45]],
regions:[[0,2048,0,2048,165,.22,.45,.8],[0,600,0,250,16,.45,.72,.1],[0,150,200,1600,8,.3,.45,0],[400,700,900,1100,5,.5,.7,.5],[1800,2048,1300,1800,6,.3,.45,.5]]});
dapi(1090.3,1715.3,{bg:'#f5f3f9',
haze:[[300,1650,850,'185,176,220',0.65],[80,800,550,'188,180,222',0.55],[1000,800,1200,'226,223,239',0.45]],
regions:[[0,750,1150,2048,60,.38,.68,.65],[0,250,0,1150,22,.35,.6,.2],[80,420,1300,1500,8,.7,.88,.3],[250,2048,100,1600,85,.2,.4,.85],[1200,2000,1600,2048,18,.2,.35,.75],[0,2048,0,150,10,.2,.3,0]]});
})();
</script>
</body></html>
